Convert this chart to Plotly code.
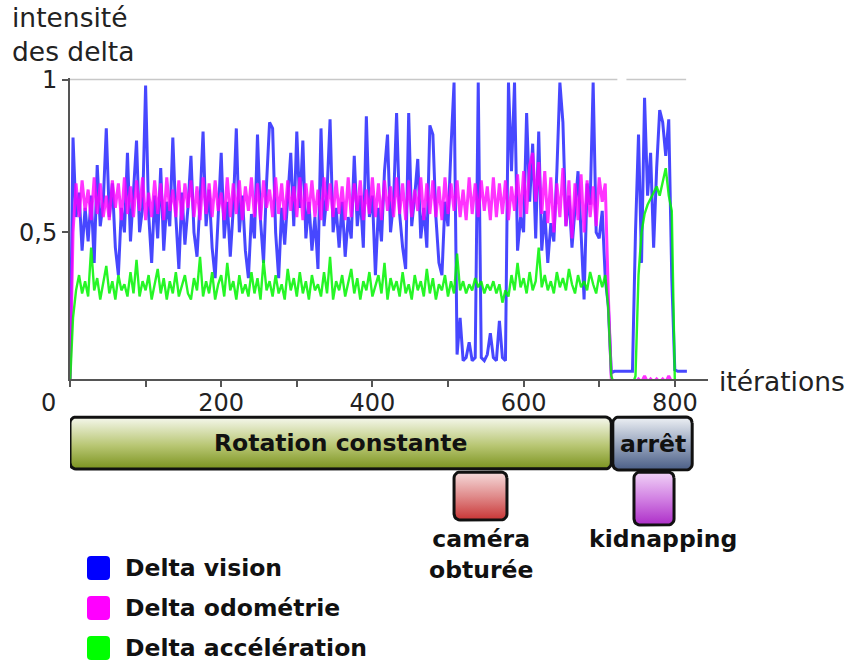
import numpy as np
import plotly.graph_objects as go

# ---------------- data ----------------
iterations = list(range(0, 820, 4))  # 0 .. 816

delta_vision = [
    0.02, 0.81, 0.55, 0.63, 0.44, 0.58, 0.47, 0.62, 0.40, 0.72, 0.52, 0.60, 0.84, 0.55, 0.66, 0.45, 0.36, 0.58, 0.50, 0.76,
    0.47, 0.62, 0.80, 0.50, 0.58, 0.98, 0.56, 0.40, 0.62, 0.48, 0.71, 0.44, 0.60, 0.52, 0.81, 0.55, 0.38, 0.63, 0.46, 0.58,
    0.75, 0.50, 0.42, 0.60, 0.83, 0.52, 0.64, 0.45, 0.35, 0.55, 0.76, 0.48, 0.60, 0.42, 0.58, 0.84, 0.50, 0.62, 0.44, 0.35,
    0.56, 0.48, 0.82, 0.54, 0.40, 0.66, 0.86, 0.84, 0.50, 0.35, 0.58, 0.46, 0.62, 0.76, 0.52, 0.83, 0.58, 0.80, 0.48, 0.60,
    0.44, 0.55, 0.38, 0.84, 0.52, 0.63, 0.87, 0.50, 0.58, 0.45, 0.60, 0.42, 0.55, 0.48, 0.75, 0.52, 0.62, 0.45, 0.88, 0.55,
    0.62, 0.36, 0.58, 0.47, 0.70, 0.82, 0.50, 0.60, 0.89, 0.56, 0.45, 0.38, 0.89, 0.52, 0.62, 0.74, 0.48, 0.58, 0.45, 0.85,
    0.82, 0.55, 0.40, 0.36, 0.60, 0.52, 0.78, 0.99, 0.10, 0.22, 0.08, 0.09, 0.14, 0.08, 0.09, 0.99, 0.09, 0.08, 0.10, 0.17,
    0.09, 0.08, 0.21, 0.09, 0.08, 0.99, 0.70, 0.99, 0.44, 0.55, 0.50, 0.89, 0.60, 0.79, 0.48, 0.83, 0.44, 0.57, 0.40, 0.53,
    0.47, 0.70, 0.99, 0.86, 0.52, 0.62, 0.45, 0.58, 0.70, 0.50, 0.28, 0.66, 0.59, 0.99, 0.50, 0.48, 0.57, 0.35, 0.26, 0.04,
    0.045, 0.045, 0.045, 0.045, 0.045, 0.045, 0.045, 0.50, 0.82, 0.40, 0.94, 0.62, 0.76, 0.45, 0.71, 0.90, 0.86, 0.75, 0.87, 0.35,
    0.05, 0.045, 0.045, 0.045, 0.045,
]

delta_odometrie = [
    0.00, 0.50, 0.66, 0.55, 0.67, 0.57, 0.64, 0.54, 0.68, 0.56, 0.66, 0.55, 0.62, 0.54, 0.67, 0.58, 0.66, 0.54, 0.68, 0.56,
    0.65, 0.55, 0.67, 0.57, 0.68, 0.54, 0.63, 0.55, 0.67, 0.56, 0.66, 0.54, 0.68, 0.57, 0.64, 0.55, 0.67, 0.54, 0.66, 0.58,
    0.67, 0.55, 0.65, 0.54, 0.68, 0.56, 0.66, 0.55, 0.67, 0.57, 0.63, 0.54, 0.68, 0.55, 0.66, 0.56, 0.67, 0.54, 0.65, 0.57,
    0.68, 0.55, 0.66, 0.54, 0.67, 0.58, 0.64, 0.55, 0.68, 0.56, 0.66, 0.54, 0.67, 0.57, 0.65, 0.55, 0.68, 0.54, 0.66, 0.56,
    0.67, 0.55, 0.64, 0.54, 0.68, 0.57, 0.66, 0.55, 0.67, 0.56, 0.65, 0.54, 0.68, 0.55, 0.66, 0.57, 0.67, 0.54, 0.64, 0.56,
    0.68, 0.55, 0.66, 0.54, 0.67, 0.57, 0.65, 0.55, 0.68, 0.56, 0.66, 0.54, 0.67, 0.55, 0.64, 0.57, 0.68, 0.54, 0.66, 0.56,
    0.67, 0.55, 0.65, 0.54, 0.68, 0.56, 0.66, 0.57, 0.67, 0.55, 0.64, 0.54, 0.68, 0.56, 0.66, 0.55, 0.67, 0.57, 0.65, 0.54,
    0.68, 0.55, 0.66, 0.56, 0.67, 0.54, 0.65, 0.57, 0.69, 0.55, 0.70, 0.56, 0.72, 0.76, 0.60, 0.73, 0.56, 0.70, 0.53, 0.68,
    0.50, 0.66, 0.55, 0.71, 0.52, 0.67, 0.48, 0.66, 0.54, 0.69, 0.50, 0.67, 0.55, 0.65, 0.52, 0.68, 0.60, 0.66, 0.30, 0.02,
    0.00, 0.00, 0.00, 0.00, 0.00, 0.00, 0.00, 0.01, 0.02, 0.01, 0.03, 0.01, 0.02, 0.01, 0.02, 0.01, 0.02, 0.01, 0.03, 0.01,
    0.00, None, None, None, None,
]

delta_acceleration = [
    0.00, 0.22, 0.31, 0.36, 0.30, 0.34, 0.29, 0.45, 0.31, 0.35, 0.28, 0.33, 0.39, 0.30, 0.34, 0.28, 0.36, 0.31, 0.33, 0.29,
    0.37, 0.30, 0.41, 0.29, 0.34, 0.31, 0.36, 0.28, 0.33, 0.38, 0.30, 0.35, 0.28, 0.34, 0.30, 0.37, 0.29, 0.33, 0.36, 0.30,
    0.28, 0.35, 0.31, 0.42, 0.29, 0.34, 0.30, 0.37, 0.28, 0.33, 0.36, 0.29, 0.40, 0.31, 0.34, 0.28, 0.36, 0.30, 0.33, 0.29,
    0.37, 0.30, 0.35, 0.28, 0.41, 0.31, 0.34, 0.29, 0.36, 0.30, 0.33, 0.28, 0.38, 0.31, 0.35, 0.29, 0.37, 0.30, 0.34, 0.28,
    0.36, 0.31, 0.33, 0.29, 0.37, 0.30, 0.42, 0.28, 0.34, 0.31, 0.36, 0.29, 0.33, 0.38, 0.30, 0.35, 0.28, 0.34, 0.31, 0.37,
    0.29, 0.33, 0.36, 0.30, 0.40, 0.28, 0.35, 0.31, 0.34, 0.29, 0.37, 0.30, 0.33, 0.28, 0.36, 0.31, 0.34, 0.29, 0.38, 0.30,
    0.35, 0.28, 0.33, 0.31, 0.36, 0.29, 0.34, 0.30, 0.43, 0.31, 0.34, 0.30, 0.33, 0.31, 0.35, 0.32, 0.34, 0.30, 0.33, 0.31,
    0.34, 0.30, 0.33, 0.27, 0.31, 0.29, 0.36, 0.31, 0.40, 0.32, 0.35, 0.30, 0.37, 0.31, 0.34, 0.45, 0.32, 0.36, 0.31, 0.34,
    0.30, 0.37, 0.32, 0.35, 0.31, 0.38, 0.33, 0.30, 0.36, 0.32, 0.34, 0.31, 0.37, 0.33, 0.30, 0.36, 0.32, 0.36, 0.25, 0.03,
    0.00, 0.00, 0.00, 0.00, 0.00, 0.00, 0.00, 0.03, 0.36, 0.50, 0.56, 0.59, 0.61, 0.63, 0.65, 0.62, 0.66, 0.71, 0.62, 0.57,
    0.02, None, None, None, None,
]

series_names = ["Delta vision", "Delta odométrie", "Delta accélération"]

phase_labels = ["Rotation constante", "arrêt"]
phase_start = [0, 718]
phase_end = [716, 823]

event_labels = ["caméra<br>obturée", "kidnapping"]
event_start = [508, 746]
event_end = [578, 799]

x_tick_values = [0, 100, 200, 300, 400, 500, 600, 700, 800]
x_tick_text = ["", "", "200", "", "400", "", "600", "", "800"]
y_tick_values = [0.5, 1]
y_tick_text = ["0,5", "1"]

# ---------------- layout constants ----------------
W, H = 846, 662
ML, MR, MT, MB = 70, 138, 78, 0
PW, PH = W - ML - MR, H - MT - MB
AXIS_PX = 379  # pixel row of x axis
y_dom_low = (H - AXIS_PX) / PH
FONT = "DejaVu Sans"
TICK_SIZE = 24
BOLD_SIZE = 23.5
TITLE_SIZE = 26.5
LABEL_SHIFT = [0, 12]  # horizontal offset (iterations) of event captions


def px_x(px):
    return (px - ML) / PW


def px_y(py):
    return (H - py) / PH


def y2(py):
    return H - py


def rrect(x0, x1, ya, yb, rx, ry, n=7):
    t = np.linspace(0, np.pi / 2, n)
    xs, ys = [], []
    for (cx, cy, off) in [(x1 - rx, yb - ry, 0), (x0 + rx, yb - ry, np.pi / 2),
                          (x0 + rx, ya + ry, np.pi), (x1 - rx, ya + ry, 3 * np.pi / 2)]:
        xs += list(cx + rx * np.cos(t + off))
        ys += list(cy + ry * np.sin(t + off))
    xs.append(xs[0])
    ys.append(ys[0])
    return xs, ys


fig = go.Figure()

line_styles = [
    dict(color="rgba(0,0,255,0.72)", width=3),
    dict(color="rgba(255,0,255,0.8)", width=3),
    dict(color="rgba(0,245,0,0.85)", width=2.4),
]
for name, vals, ls in zip(series_names, [delta_vision, delta_odometrie, delta_acceleration], line_styles):
    fig.add_trace(go.Scatter(x=iterations, y=vals, mode="lines", name=name, line=ls,
                             showlegend=False, hoverinfo="skip", connectgaps=False))

# timeline bars
RX = 6 / 0.756
phase_scales = [
    [[0, "#7b931f"], [0.45, "#b8c673"], [1, "#f6f8ee"]],
    [[0, "#4a5e86"], [0.5, "#9aa7bf"], [1, "#eef1f5"]],
]
event_scales = [
    [[0, "#c83535"], [0.5, "#e08c8c"], [1, "#f6dcdc"]],
    [[0, "#ad2ec8"], [0.5, "#d282e3"], [1, "#f1d3f7"]],
]
phase_rows = [(y2(469), y2(417)), (y2(470), y2(417))]
event_rows = [(y2(520), y2(472)), (y2(525), y2(472))]

annotations = []
for lab, s, e, cs, (ya, yb) in zip(phase_labels, phase_start, phase_end, phase_scales, phase_rows):
    xs, ys = rrect(s, e, ya, yb, RX, 6)
    fig.add_trace(go.Scatter(x=xs, y=ys, xaxis="x", yaxis="y2", mode="lines", fill="toself",
                             fillgradient=dict(type="vertical", colorscale=cs),
                             line=dict(color="#111111", width=3), showlegend=False, hoverinfo="skip"))
    annotations.append(dict(x=(s + e) / 2, y=(ya + yb) / 2, xref="x", yref="y2", text="<b>%s</b>" % lab,
                            showarrow=False, font=dict(family=FONT, size=BOLD_SIZE, color="#111111")))

for lab, s, e, cs, (ya, yb), sh in zip(event_labels, event_start, event_end, event_scales, event_rows, LABEL_SHIFT):
    xs, ys = rrect(s, e, ya, yb, RX, 6)
    fig.add_trace(go.Scatter(x=xs, y=ys, xaxis="x", yaxis="y2", mode="lines", fill="toself",
                             fillgradient=dict(type="vertical", colorscale=cs),
                             line=dict(color="#111111", width=3), showlegend=False, hoverinfo="skip"))
    annotations.append(dict(x=(s + e) / 2 + sh, y=y2(523), xref="x", yref="y2", text="<b>%s</b>" % lab,
                            showarrow=False, yanchor="top",
                            font=dict(family=FONT, size=BOLD_SIZE, color="#111111")))

# manual legend
legend_colors = ["#0000ff", "#ff00ff", "#00ff00"]
legend_rows = [568, 608, 648]
shapes = []
for name, col, row in zip(series_names, legend_colors, legend_rows):
    x0, x1, ya, yb = px_x(87), px_x(110), px_y(row + 12), px_y(row - 12)
    rx, ry = 4 / PW, 4 / PH
    path = (f"M {x0+rx},{ya} L {x1-rx},{ya} Q {x1},{ya} {x1},{ya+ry} L {x1},{yb-ry} Q {x1},{yb} {x1-rx},{yb} "
            f"L {x0+rx},{yb} Q {x0},{yb} {x0},{yb-ry} L {x0},{ya+ry} Q {x0},{ya} {x0+rx},{ya} Z")
    shapes.append(dict(type="path", path=path, xref="paper", yref="paper", fillcolor=col,
                       line=dict(width=0)))
    annotations.append(dict(x=px_x(123), y=px_y(row), xref="paper", yref="paper", xanchor="left",
                            yanchor="middle", text="<b>%s</b>" % name, showarrow=False,
                            font=dict(family=FONT, size=BOLD_SIZE, color="#111111")))

# top light line at y = 1
for a, b in [(0, 724), (736, 815)]:
    shapes.append(dict(type="line", xref="x", yref="y", x0=a, x1=b, y0=1, y1=1,
                       line=dict(color="#c8c8c8", width=1.5), layer="below"))

# axis titles and origin label
annotations.append(dict(x=px_x(10), y=px_y(0), xref="paper", yref="paper", xanchor="left", yanchor="top",
                        align="left", text="intensité<br>des delta", showarrow=False,
                        font=dict(family=FONT, size=TITLE_SIZE, color="#222222")))
annotations.append(dict(x=px_x(717), y=px_y(381), xref="paper", yref="paper", xanchor="left",
                        yanchor="middle", text="itérations", showarrow=False,
                        font=dict(family=FONT, size=TITLE_SIZE, color="#222222")))
annotations.append(dict(x=px_x(48), y=px_y(403), xref="paper", yref="paper", xanchor="center",
                        yanchor="middle", text="0", showarrow=False,
                        font=dict(family=FONT, size=TICK_SIZE, color="#222222")))

fig.update_layout(
    width=W, height=H,
    margin=dict(l=ML, r=MR, t=MT, b=MB),
    paper_bgcolor="white", plot_bgcolor="white",
    font=dict(family=FONT, size=TICK_SIZE, color="#222222"),
    showlegend=False,
    xaxis=dict(range=[0, PW / 0.756], anchor="y", showline=True, linecolor="#555555", linewidth=2,
               ticks="outside", ticklen=6, tickwidth=1.5, tickcolor="#555555",
               tickvals=x_tick_values, ticktext=x_tick_text, showgrid=False, zeroline=False,
               ticklabelstandoff=-5,
               tickfont=dict(family=FONT, size=TICK_SIZE, color="#222222")),
    yaxis=dict(domain=[y_dom_low, 1], range=[0.02, 1.005], anchor="x", showline=True,
               linecolor="#555555", linewidth=2, ticks="outside", ticklen=6, tickwidth=1.5,
               tickcolor="#555555", tickvals=y_tick_values, ticktext=y_tick_text,
               showgrid=False, zeroline=False, tickfont=dict(family=FONT, size=TICK_SIZE, color="#222222")),
    yaxis2=dict(domain=[0, y_dom_low], range=[0, H - AXIS_PX], anchor="x", visible=False),
    shapes=shapes,
    annotations=annotations,
)

fig.write_html("out.html", config={"displayModeBar": False},
               post_script="document.body.style.margin='0';")
